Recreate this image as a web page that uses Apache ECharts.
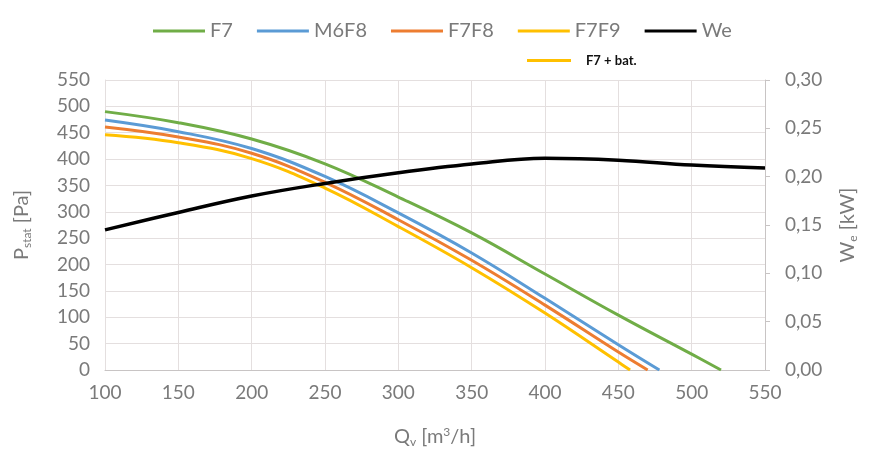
<!DOCTYPE html>
<html>
<head>
<meta charset="utf-8">
<script src="https://cdn.jsdelivr.net/npm/echarts@6/dist/echarts.min.js"></script>
<style>
  html, body { margin: 0; padding: 0; background: #fff; }
  #chart { width: 870px; height: 453px; }
</style>
</head>
<body>
<div id="chart"></div>
<script>
// 曲线数据
var qv = [100, 150, 200, 250, 300, 350, 400, 450, 500, 550];
var qvF7 = [100, 150, 200, 250, 300, 350, 400, 450, 500, 520];
var f7 = [490, 469, 438, 391, 328, 260, 182, 104, 30, 0];
var qvM6F8 = [100, 150, 200, 250, 300, 350, 400, 450, 478];
var m6f8 = [474, 452, 420, 367, 298, 222, 136, 48, 0];
var qvF7F8 = [100, 150, 200, 250, 300, 350, 400, 450, 470];
var f7f8 = [461, 442, 411, 356, 285, 208, 123, 34, 0];
var qvF7F9 = [100, 150, 200, 250, 300, 350, 400, 450, 458];
var f7f9 = [446, 431, 401, 345, 272, 194, 108, 15, 0];
var we = [0.145, 0.163, 0.180, 0.193, 0.204, 0.213, 0.219, 0.217, 0.212, 0.209];

function pairs(xs, ys) {
  return xs.map(function (x, i) { return [x, ys[i]]; });
}

var chart = echarts.init(document.getElementById('chart'));
var font = 'Lato, "Open Sans", sans-serif';
var grey = '#7a7a7a';

var option = {
  animation: false,
  textStyle: { fontFamily: font },
  legend: [{
    data: ['F7', 'M6F8', 'F7F8', 'F7F9', 'We'],
    left: 148,
    top: 16,
    icon: 'rect',
    itemWidth: 52,
    itemHeight: 3,
    itemGap: 24,
    textStyle: { fontSize: 20, color: grey, fontFamily: font }
  }, {
    data: ['F7 + bat.'],
    left: 522,
    top: 49,
    icon: 'rect',
    itemWidth: 44,
    itemHeight: 3,
    textStyle: { fontSize: 13, color: '#111', fontWeight: 'bold', fontFamily: font, padding: [0, 0, 0, 10] }
  }],
  grid: { left: 105, right: 105, top: 80, bottom: 83 },
  xAxis: {
    type: 'value',
    min: 100,
    max: 550,
    interval: 50,
    name: '{a|Q}{s|v}{a| [m}{p|3}{a|/h]}',
    nameLocation: 'middle',
    nameGap: 56,
    nameTextStyle: {
      rich: {
        a: { fontSize: 20, color: grey, fontFamily: font },
        s: { fontSize: 12, color: grey, fontFamily: font, verticalAlign: 'bottom', padding: [10, 0, 0, 0] },
        p: { fontSize: 12, color: grey, fontFamily: font, verticalAlign: 'top', padding: [0, 0, 8, 0] }
      }
    },
    axisLine: { lineStyle: { color: '#c8c4c4' } },
    axisTick: { show: false },
    axisLabel: { fontSize: 19, color: grey, margin: 13 },
    splitLine: { show: true, lineStyle: { color: '#e4dfdf' } }
  },
  yAxis: [{
    type: 'value',
    min: 0,
    max: 550,
    interval: 50,
    name: '{a|P}{s|stat}{a| [Pa]}',
    nameLocation: 'middle',
    nameGap: 72,
    nameTextStyle: {
      rich: {
        a: { fontSize: 20, color: grey, fontFamily: font },
        s: { fontSize: 12, color: grey, fontFamily: font, verticalAlign: 'bottom', padding: [10, 0, 0, 0] }
      }
    },
    axisLine: { show: true, lineStyle: { color: '#e4dfdf' } },
    axisTick: { show: false },
    axisLabel: { fontSize: 19, color: grey, margin: 15 },
    splitLine: { show: true, lineStyle: { color: '#e4dfdf' } }
  }, {
    type: 'value',
    min: 0,
    max: 0.3,
    interval: 0.05,
    position: 'right',
    name: '{a|W}{s|e}{a| [kW]}',
    nameLocation: 'middle',
    nameGap: 72,
    nameTextStyle: {
      rich: {
        a: { fontSize: 20, color: grey, fontFamily: font },
        s: { fontSize: 12, color: grey, fontFamily: font, verticalAlign: 'bottom', padding: [10, 0, 0, 0] }
      }
    },
    axisLine: { show: true, lineStyle: { color: '#c8c4c4' } },
    axisTick: { show: true, inside: false, length: 5, lineStyle: { color: '#c8c4c4' } },
    axisLabel: {
      fontSize: 19, color: grey, margin: 20,
      formatter: function (v) { return v.toFixed(2).replace('.', ','); }
    },
    splitLine: { show: false }
  }],
  series: [
    { name: 'F7', type: 'line', smooth: 0.4, symbol: 'none', color: '#70ad47',
      lineStyle: { width: 3 }, data: pairs(qvF7, f7) },
    { name: 'M6F8', type: 'line', smooth: 0.4, symbol: 'none', color: '#5b9bd5',
      lineStyle: { width: 3 }, data: pairs(qvM6F8, m6f8) },
    { name: 'F7F8', type: 'line', smooth: 0.4, symbol: 'none', color: '#ed7d31',
      lineStyle: { width: 3 }, data: pairs(qvF7F8, f7f8) },
    { name: 'F7F9', type: 'line', smooth: 0.4, symbol: 'none', color: '#ffc000',
      lineStyle: { width: 3 }, data: pairs(qvF7F9, f7f9) },
    { name: 'We', type: 'line', smooth: 0.4, symbol: 'none', color: '#000000', yAxisIndex: 1,
      lineStyle: { width: 3.5 }, data: pairs(qv, we) },
    { name: 'F7 + bat.', type: 'line', symbol: 'none', color: '#ffc000',
      lineStyle: { width: 3 }, data: [] }
  ]
};

chart.setOption(option);
</script>
</body>
</html>
